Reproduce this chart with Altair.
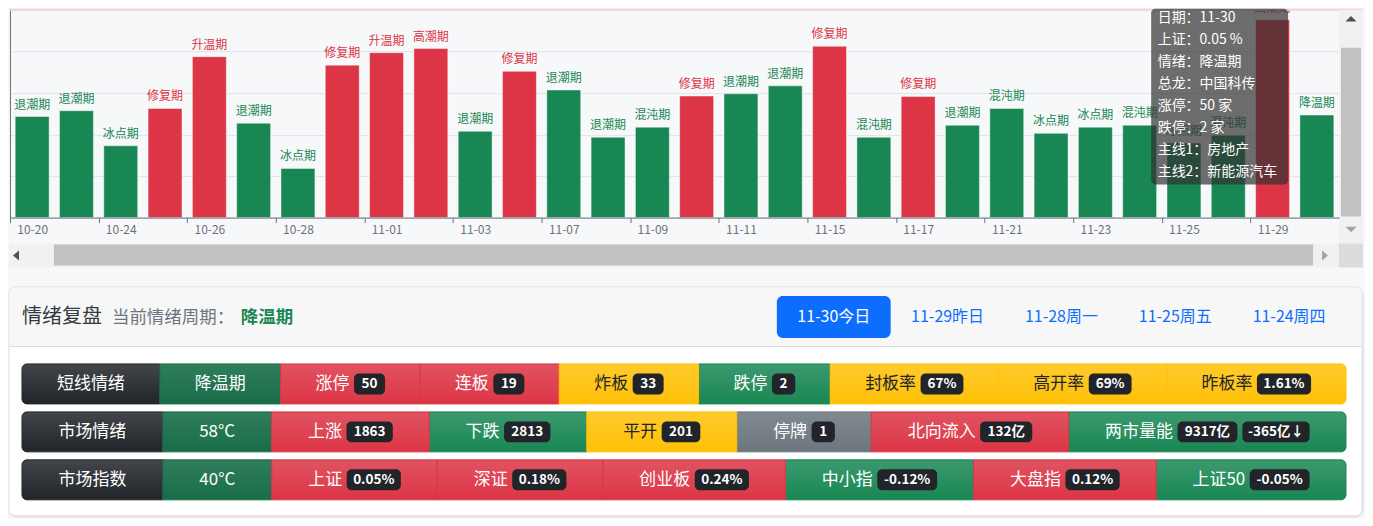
import altair as alt
import pandas as pd

# ---------------- data ----------------
dates = ["10-20", "10-21", "10-24", "10-25", "10-26", "10-27", "10-28", "10-31",
         "11-01", "11-02", "11-03", "11-04", "11-07", "11-08", "11-09", "11-10",
         "11-11", "11-14", "11-15", "11-16", "11-17", "11-18", "11-21", "11-22",
         "11-23", "11-24", "11-25", "11-28", "11-29", "11-30"]
heat = [48.7, 51.5, 34.6, 52.6, 77.6, 45.5, 23.7, 73.5, 79.5, 81.5,
        41.6, 70.5, 61.5, 38.7, 43.6, 58.6, 59.7, 63.5, 82.6, 38.7,
        58.4, 44.5, 52.6, 40.6, 43.6, 44.5, 36.0, 39.7, 95.4, 49.4]
phases = ["退潮期", "退潮期", "冰点期", "修复期", "升温期", "退潮期", "冰点期", "修复期",
          "升温期", "高潮期", "退潮期", "修复期", "退潮期", "退潮期", "混沌期", "修复期",
          "退潮期", "退潮期", "修复期", "混沌期", "修复期", "退潮期", "混沌期", "冰点期",
          "冰点期", "混沌期", "冰点期", "混沌期", "高潮期", "降温期"]
warm_phases = ["修复期", "升温期", "高潮期"]
tick_dates = dates[::2]

tip_lines = ["日期：11-30", "上证：0.05 %", "情绪：降温期", "总龙：中国科传",
             "涨停：50 家", "跌停：2 家", "主线1：房地产", "主线2：新能源汽车"]

panel_title = "情绪复盘"
panel_sub = "当前情绪周期："
panel_phase = "降温期"
tabs = ["11-30今日", "11-29昨日", "11-28周一", "11-25周五", "11-24周四"]

row_titles = ["短线情绪", "市场情绪", "市场指数"]
row1_labels = ["降温期", "涨停", "连板", "炸板", "跌停", "封板率", "高开率", "昨板率"]
row1_badges = [[], ["50"], ["19"], ["33"], ["2"], ["67%"], ["69%"], ["1.61%"]]
row1_tones = ["deep", "red", "red", "yellow", "green", "yellow", "yellow", "yellow"]
row2_labels = ["58°C", "上涨", "下跌", "平开", "停牌", "北向流入", "两市量能"]
row2_badges = [[], ["1863"], ["2813"], ["201"], ["1"], ["132亿"], ["9317亿", "-365亿↓"]]
row2_tones = ["deep", "red", "green", "yellow", "gray", "red", "green"]
row3_labels = ["40°C", "上证", "深证", "创业板", "中小指", "大盘指", "上证50"]
row3_badges = [[], ["0.05%"], ["0.18%"], ["0.24%"], ["-0.12%"], ["0.12%"], ["-0.05%"]]
row3_tones = ["deep", "red", "red", "red", "green", "red", "green"]

# ---------------- styles ----------------
FONT = "Noto Sans CJK SC"
RED, GREEN = "#dc3545", "#198754"
TONES = {
    "dark": ("#42464a", "#212529", "#ffffff"),
    "deep": ("#2f7e5c", "#1a6c48", "#ffffff"),
    "green": ("#3b996e", "#198754", "#ffffff"),
    "red": ("#e15361", "#dc3545", "#ffffff"),
    "yellow": ("#ffca2c", "#ffc107", "#212529"),
    "gray": ("#828a91", "#6c757d", "#ffffff"),
}
AXIS_GRAY = "#6e7079"

# ---------------- top chart ----------------
ORIGIN_X = 9       # page x of the plot's y axis
W1, H1 = 1330, 207.5
N = len(dates)
step = W1 / N

bar_df = pd.DataFrame({"date": dates, "heat": heat, "phase": phases})
bar_df["tone"] = ["warm" if p in warm_phases else "cool" for p in phases]

xenc = alt.X("date:N", sort=dates,
             scale=alt.Scale(paddingInner=0.234, paddingOuter=0.117),
             axis=alt.Axis(values=tick_dates, tickOffset=-step / 2, labelOffset=step / 2,
                           labelAngle=0, title=None, domainColor=AXIS_GRAY, tickColor=AXIS_GRAY,
                           tickSize=5, labelColor=AXIS_GRAY, labelFontSize=12, labelPadding=2,
                           labelOverlap=False, grid=False, zindex=1))
yenc = alt.Y("heat:Q", scale=alt.Scale(domain=[0, 100], nice=False),
             axis=alt.Axis(values=[0, 20, 40, 60, 80, 100], labels=False, ticks=False, title=None,
                           domainColor=AXIS_GRAY, gridColor="#e0e3e9"))
col = alt.Color("tone:N", scale=alt.Scale(domain=["warm", "cool"], range=[RED, GREEN]), legend=None)

bars = alt.Chart(bar_df).mark_bar(stroke="#ffffff", strokeOpacity=0.45, strokeWidth=1).encode(
    x=xenc, y=yenc, color=col)
bar_labels = alt.Chart(bar_df).mark_text(baseline="bottom", dy=-5, fontSize=12, clip=True).encode(
    x=xenc, y=yenc, text="phase:N", color=col)

one = pd.DataFrame({"k": [0]})


def px_rect(x0, x1, y0, y1, color, **kw):
    return alt.Chart(one).mark_rect(color=color, **kw).encode(
        x=alt.value(x0), x2=alt.value(x1), y=alt.value(y0), y2=alt.value(y1))


def px_arrow(x, y, path, color, size):
    return alt.Chart(one).mark_point(shape=path, filled=True, color=color, size=size, opacity=1).encode(
        x=alt.value(x), y=alt.value(y))


SB = H1 + 26  # top of the horizontal scrollbar
chrome = [
    px_rect(-1, W1 + 24, -1.5, -0.5, "#f5c2c7"),
    # horizontal scrollbar
    px_rect(-1, W1, SB, SB + 24, "#f1f1f1"),
    px_rect(44, W1 - 26, SB + 1, SB + 22, "#c1c1c1"),
    px_arrow(6, SB + 12, "M0.6,-1L0.6,1L-0.6,0Z", "#505050", 100),
    px_arrow(W1 - 14, SB + 12, "M-0.6,-1L-0.6,1L0.6,0Z", "#a3a3a3", 100),
    # vertical scrollbar
    px_rect(W1, W1 + 24, -0.5, SB, "#f1f1f1"),
    px_rect(W1 + 2, W1 + 22, 37.5, 206.5, "#c1c1c1"),
    px_arrow(W1 + 12, 8.5, "M-1,0.5L1,0.5L0,-0.5Z", "#505050", 120),
    px_arrow(W1 + 12, SB - 14, "M-1,-0.5L1,-0.5L0,0.5Z", "#a3a3a3", 120),
    px_rect(W1, W1 + 24, SB, SB + 24, "#dcdcdc"),
]

tip_x0 = 25.76 * step
tip_box = px_rect(tip_x0, tip_x0 + 137, -1.5, 174.5, "#323232", opacity=0.7, cornerRadius=4)
tip_text = alt.Chart(one).mark_text(
    align="left", baseline="top", fontSize=14, lineHeight=22, color="#ffffff").encode(
    x=alt.value(tip_x0 + 6.5), y=alt.value(0.7), text=alt.value(tip_lines))

top = alt.layer(*chrome, bars, bar_labels, tip_box, tip_text).properties(width=W1, height=H1)

# ---------------- panel ----------------
# panel coordinates are page pixels; x = ORIGIN_X lines up with the top chart's y axis
PX_MAX, PH = 1365, 232
xs = alt.Scale(domain=[ORIGIN_X, PX_MAX], nice=False, zero=False)
ys = alt.Scale(domain=[PH, 0], nice=False, zero=False)


def cw(ch, size, bold=False):
    if ord(ch) >= 0x2E80:
        return size
    if ch.isdigit():
        return size * (0.57 if bold else 0.55)
    return {".": 0.27, "%": 0.88, "-": 0.42, "°": 0.4, "C": 0.62, "↓": 0.7}.get(ch, 0.55) * size


def tw(s, size, bold=False):
    return sum(cw(c, size, bold) for c in s)


LF, BF = 17, 13.5
BPAD, BH, GAP1, GAP2 = 7.8, 21, 4.5, 5
ROW_X0, ROW_X1 = 21, 1346
ROW_Y = [77, 125, 173]
ROW_H = 40

rows = [
    (row_titles[0], row1_labels, row1_badges, row1_tones),
    (row_titles[1], row2_labels, row2_badges, row2_tones),
    (row_titles[2], row3_labels, row3_badges, row3_tones),
]

cells, labels, badges = [], [], []
for r, (title, labs, bdgs, tns) in enumerate(rows):
    items = [(title, [], "dark")] + list(zip(labs, bdgs, tns))
    widths = []
    for lab, bl, tn in items:
        w = tw(lab, LF)
        for i, b in enumerate(bl):
            w += (GAP1 if i == 0 else GAP2) + tw(b, BF, True) + 2 * BPAD
        widths.append(w)
    extra = (ROW_X1 - ROW_X0 - sum(widths)) / len(items)
    x = ROW_X0
    y0 = ROW_Y[r]
    yc = y0 + ROW_H / 2
    for k, ((lab, bl, tn), w) in enumerate(zip(items, widths)):
        cwid = w + extra
        pos = "first" if k == 0 else ("last" if k == len(items) - 1 else "mid")
        cells.append(dict(x0=x, x1=x + cwid, y0=y0, y1=y0 + ROW_H, tone=tn, pos=pos))
        start = x + extra / 2
        lw = tw(lab, LF)
        labels.append(dict(x=start + lw / 2, y=yc, t=lab, c=TONES[tn][2]))
        bx = start + lw
        for i, b in enumerate(bl):
            bx += GAP1 if i == 0 else GAP2
            bw = tw(b, BF, True) + 2 * BPAD
            badges.append(dict(x0=bx, x1=bx + bw, y0=yc - BH / 2, y1=yc + BH / 2, x=bx + bw / 2, y=yc, t=b))
            bx += bw
        x += cwid

cells_df = pd.DataFrame(cells)
labels_df = pd.DataFrame(labels)
badges_df = pd.DataFrame(badges)


def prect(df, **kw):
    return alt.Chart(df).mark_rect(**kw).encode(
        x=alt.X("x0:Q", scale=xs, axis=None), x2="x1:Q",
        y=alt.Y("y0:Q", scale=ys, axis=None), y2="y1:Q")


def ptext(df, **kw):
    return alt.Chart(df).mark_text(**kw).encode(
        x=alt.X("x:Q", scale=xs, axis=None), y=alt.Y("y:Q", scale=ys, axis=None),
        text="t:N", color=alt.Color("c:N", scale=None))


def box(x0, x1, y0, y1):
    return pd.DataFrame([dict(x0=x0, x1=x1, y0=y0, y1=y1)])


P_X0, P_X1, P_Y1, HEAD_Y1 = 8, 1362, 229, 59
frame = [
    prect(box(P_X0, P_X1 + 3, 2, P_Y1 + 3), color="#000000", opacity=0.025, cornerRadius=9),
    prect(box(P_X0, P_X1 + 1.5, 1, P_Y1 + 2), color="#000000", opacity=0.035, cornerRadius=8),
    prect(box(P_X0, P_X1 + 0.5, 0.5, P_Y1 + 1), color="#000000", opacity=0.05, cornerRadius=7),
    prect(box(P_X0, P_X1, 0, P_Y1), color="#ffffff", stroke="#dadde1", strokeWidth=1, cornerRadius=6),
    prect(box(P_X0 + 0.5, P_X1 - 0.5, 0.5, HEAD_Y1), color="#f7f7f7",
          cornerRadiusTopLeft=6, cornerRadiusTopRight=6),
    prect(box(P_X0 + 0.5, P_X1 - 0.5, HEAD_Y1, HEAD_Y1 + 1), color="#dcdcdc"),
]

# header texts
head = [
    ptext(pd.DataFrame([dict(x=ROW_X0, y=30, t=panel_title, c="#343a40")]),
          align="left", baseline="middle", fontSize=20),
    ptext(pd.DataFrame([dict(x=111, y=31, t=panel_sub, c="#6c757d")]),
          align="left", baseline="middle", fontSize=17.5),
    ptext(pd.DataFrame([dict(x=240, y=31, t=panel_phase, c=GREEN)]),
          align="left", baseline="middle", fontSize=17.5, fontWeight="bold"),
]

TAB_PAD = 20
tab_w = [tw(t, 16) + 2 * TAB_PAD for t in tabs]
tx = ROW_X1 - sum(tab_w)
tab_rows = []
for i, (t, w) in enumerate(zip(tabs, tab_w)):
    tab_rows.append(dict(x0=tx, x1=tx + w, y0=9, y1=51, x=tx + w / 2, y=30, t=t,
                         c="#ffffff" if i == 0 else "#0d6efd"))
    tx += w
tab_df = pd.DataFrame(tab_rows)
tab_layers = [
    prect(tab_df.iloc[:1], color="#0d6efd", cornerRadius=6),
    ptext(tab_df, align="center", baseline="middle", fontSize=16),
]

# cells by tone / position
cell_layers = []
for (tn, pos), sub in cells_df.groupby(["tone", "pos"]):
    top_c, base_c, _ = TONES[tn]
    grad = alt.LinearGradient(gradient="linear",
                              stops=[alt.GradientStop(color=top_c, offset=0),
                                     alt.GradientStop(color=base_c, offset=1)],
                              x1=0, x2=0, y1=0, y2=1)
    kw = {}
    if pos == "first":
        kw = dict(cornerRadiusTopLeft=5, cornerRadiusBottomLeft=5)
    elif pos == "last":
        kw = dict(cornerRadiusTopRight=5, cornerRadiusBottomRight=5)
    cell_layers.append(prect(sub.reset_index(drop=True), fill=grad, stroke=base_c, strokeWidth=1, **kw))

badge_layers = [
    prect(badges_df[["x0", "x1", "y0", "y1"]], color="#212529", cornerRadius=5),
    ptext(badges_df[["x", "y", "t"]].assign(c="#ffffff"), align="center", baseline="middle",
          fontSize=BF, fontWeight="bold"),
]
label_layer = ptext(labels_df, align="center", baseline="middle", fontSize=LF)

panel = alt.layer(*frame, *head, *tab_layers, *cell_layers, *badge_layers, label_layer).properties(
    width=PX_MAX - ORIGIN_X, height=PH)

chart = alt.vconcat(top, panel, spacing=18).properties(
    padding=0, background="#f7f8fa"
).configure(font=FONT).configure_view(stroke=None)

chart.save("out.html", embed_options={"renderer": "svg", "actions": False})
